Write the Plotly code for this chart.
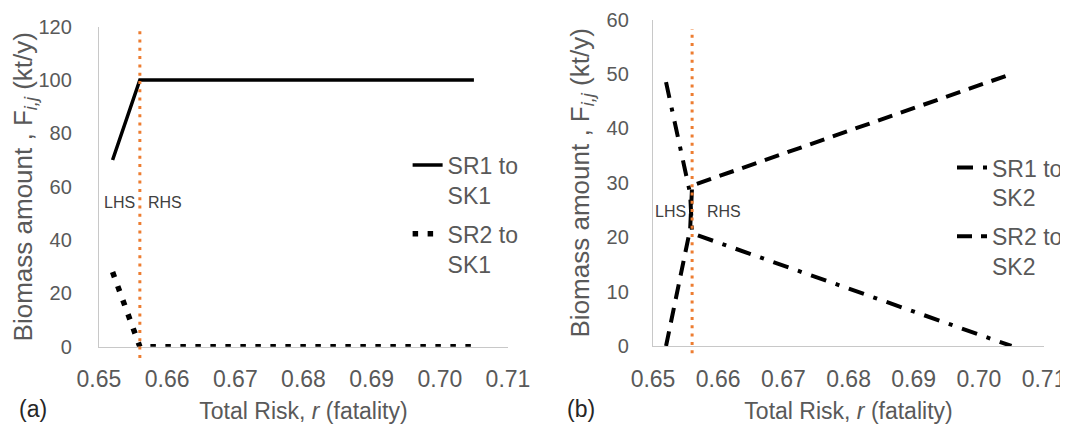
import plotly.graph_objects as go

# ---------------- data ----------------
risk_a = [0.652, 0.6557, 0.656, 0.705]          # Total risk r (fatality), panel (a)
sr1_sk1 = [70, 98.5, 100, 100]                   # SR1 to SK1 (kt/y)
sr2_sk1 = [28, 1.5, 0, 0]                        # SR2 to SK1 (kt/y)

risk_b = [0.652, 0.6557, 0.656, 0.705]           # Total risk r (fatality), panel (b)
sr1_sk2 = [48.5, 28, 20.7, 0]                    # SR1 to SK2 (kt/y)
sr2_sk2 = [0, 21.5, 29.5, 50]                    # SR2 to SK2 (kt/y)

risk_threshold = 0.656                           # LHS / RHS boundary

x_ticks = [0.65, 0.66, 0.67, 0.68, 0.69, 0.70, 0.71]
x_tick_labels = ["0.65", "0.66", "0.67", "0.68", "0.69", "0.70", "0.71"]
y_ticks_a = [0, 20, 40, 60, 80, 100, 120]
y_ticks_b = [0, 10, 20, 30, 40, 50, 60]

FONT = "Liberation Sans, Arial, sans-serif"
GREY = "#595959"
AXIS = "#c8c8c8"
ORANGE = "#ED7D31"
W, H = 1060, 416   # page has an 8px body margin

fig = go.Figure()

fig.add_trace(go.Scatter(x=risk_a, y=sr1_sk1, mode="lines", name="SR1 to<br>SK1",
                         line=dict(color="black", width=3.5), xaxis="x", yaxis="y",
                         legend="legend", legendgroup="a1"))
fig.add_trace(go.Scatter(x=risk_a, y=sr2_sk1, mode="lines", name="SR2 to<br>SK1",
                         line=dict(color="black", width=5.5, dash="5.5px,9.5px"),
                         xaxis="x", yaxis="y", legend="legend", legendgroup="a2"))
fig.add_trace(go.Scatter(x=risk_b, y=sr1_sk2, mode="lines", name="SR1 to<br>SK2",
                         line=dict(color="black", width=4, dash="16px,10px,4px,10px"),
                         xaxis="x2", yaxis="y2", legend="legend2", legendgroup="b1"))
fig.add_trace(go.Scatter(x=risk_b, y=sr2_sk2, mode="lines", name="SR2 to<br>SK2",
                         line=dict(color="black", width=4, dash="15px,9px"),
                         xaxis="x2", yaxis="y2", legend="legend2", legendgroup="b2"))

def xaxis_cfg(domain, anchor):
    return dict(domain=domain, anchor=anchor, range=[0.65, 0.71],
                tickvals=x_ticks, ticktext=x_tick_labels,
                showline=True, linecolor=AXIS, linewidth=1.3,
                showgrid=False, zeroline=False, ticks="",
                tickfont=dict(size=23, color=GREY, family=FONT),
                ticklabelstandoff=12, automargin=False,
                title=dict(text="Total Risk, <i>r</i> (fatality)",
                           font=dict(size=23, color=GREY, family=FONT), standoff=13))

def yaxis_cfg(domain, anchor, rng, ticks, ticklen, standoff):
    return dict(domain=domain, anchor=anchor, range=rng, tickvals=ticks,
                showline=True, linecolor=AXIS, linewidth=1.3,
                showgrid=False, zeroline=False,
                ticks="outside", ticklen=ticklen, tickcolor="rgba(0,0,0,0)",
                tickfont=dict(size=20, color=GREY, family=FONT),
                automargin=False,
                title=dict(text="Biomass amount , F<sub><i>i,j</i></sub> (kt/y)",
                           font=dict(size=26, color=GREY, family=FONT), standoff=standoff))

legend_common = dict(font=dict(size=23, color=GREY, family=FONT),
                     bgcolor="rgba(0,0,0,0)", valign="top", tracegroupgap=6,
                     xanchor="left", yanchor="top", itemclick=False)

fig.update_layout(
    width=W, height=H,
    margin=dict(l=0, r=0, t=0, b=0),
    paper_bgcolor="white", plot_bgcolor="white",
    font=dict(family=FONT, color=GREY),
    xaxis=xaxis_cfg([0.0858, 0.4717], "y"),
    yaxis=yaxis_cfg([0.1858, 0.955], "x", [0, 120], y_ticks_a, 22, 2),
    xaxis2=xaxis_cfg([0.6085, 0.9774], "y2"),
    yaxis2=yaxis_cfg([0.1875, 0.9721], "x2", [0, 60], y_ticks_b, 19, 9),
    legend=dict(x=0.377, y=0.674, **legend_common),
    legend2=dict(x=0.8906, y=0.668, **legend_common),
    showlegend=True,
)

# LHS / RHS boundary lines
fig.add_shape(type="line", xref="x", yref="y domain", x0=risk_threshold, x1=risk_threshold,
              y0=-0.035, y1=0.99, line=dict(color=ORANGE, width=3, dash="3px,5.3px"))
fig.add_shape(type="line", xref="x2", yref="y2 domain", x0=risk_threshold, x1=risk_threshold,
              y0=-0.022, y1=0.971, line=dict(color=ORANGE, width=3, dash="3px,5.3px"))

ann_font = dict(size=16, color="#404040", family=FONT)
fig.add_annotation(text="LHS", x=risk_threshold, y=54, xref="x", yref="y", xanchor="right",
                   xshift=-3, showarrow=False, font=ann_font)
fig.add_annotation(text="RHS", x=risk_threshold, y=54, xref="x", yref="y", xanchor="left",
                   xshift=6, showarrow=False, font=ann_font)
fig.add_annotation(text="LHS", x=risk_threshold, y=24.7, xref="x2", yref="y2", xanchor="right",
                   xshift=-4, showarrow=False, font=ann_font)
fig.add_annotation(text="RHS", x=risk_threshold, y=24.7, xref="x2", yref="y2", xanchor="left",
                   xshift=13, showarrow=False, font=ann_font)

label_font = dict(size=23, color="#262626", family=FONT)
fig.add_annotation(text="(a)", x=0.0236, y=0.0, xref="paper", yref="paper",
                   xanchor="center", yanchor="bottom", showarrow=False, font=label_font)
fig.add_annotation(text="(b)", x=0.5406, y=0.0, xref="paper", yref="paper",
                   xanchor="center", yanchor="bottom", showarrow=False, font=label_font)

fig.write_html("out.html")
